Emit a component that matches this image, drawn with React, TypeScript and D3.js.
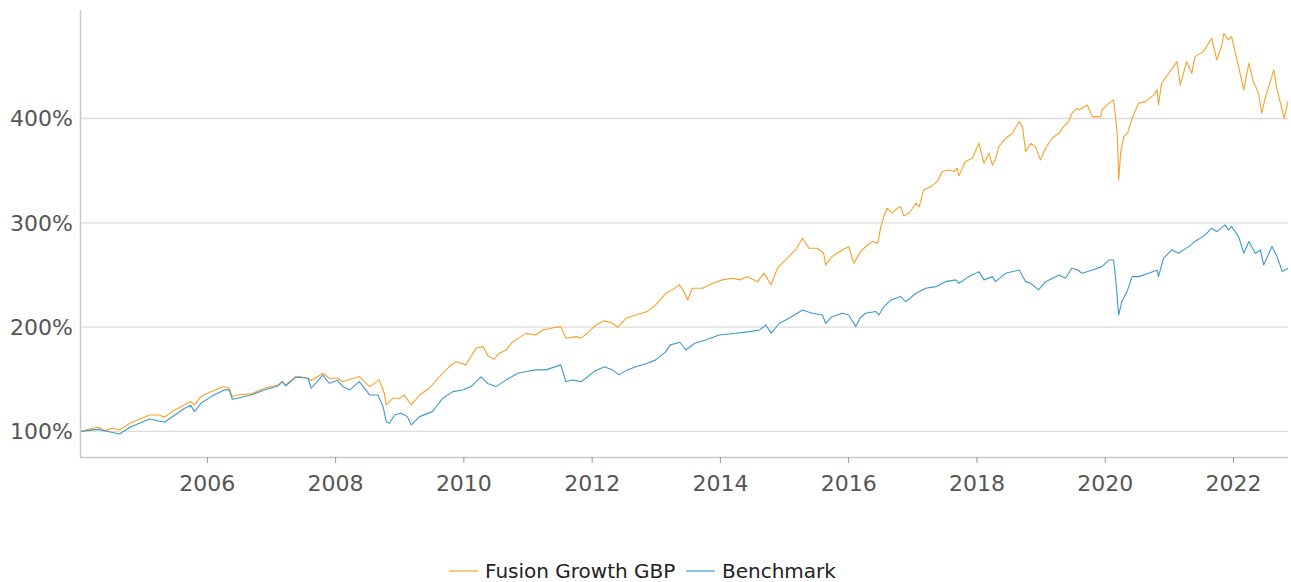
import React from "react";
import * as d3 from "d3";

const seriesNames = ["Fusion Growth GBP", "Benchmark"];
const seriesColors = ["#f7a128", "#3c9acb"];
const yTickValues = [100, 200, 300, 400];
const xTickYears = [2006, 2008, 2010, 2012, 2014, 2016, 2018, 2020, 2022];

// [decimal year, % value]
const fundSeries: [number, number][] = [
  [2004.03,100],[2004.12,101.5],[2004.29,104],[2004.40,100.8],[2004.52,103],[2004.63,101.4],[2004.79,107.9],[2004.91,111],[2005.10,115.8],[2005.25,115.8],[2005.33,113.6],[2005.49,120.6],[2005.64,125.4],[2005.74,128.6],[2005.80,125.4],[2005.90,133.4],[2006.06,138.2],[2006.26,143],[2006.34,141.4],[2006.39,133.4],[2006.47,135],[2006.68,136],[2006.89,141.4],[2007.10,144.6],[2007.17,147.7],[2007.22,144.6],[2007.38,152.5],[2007.44,152.5],[2007.57,151],[2007.62,148.9],[2007.80,155.8],[2007.90,151],[2008.03,151],[2008.11,147.7],[2008.22,150],[2008.37,152.5],[2008.53,143],[2008.68,149.4],[2008.76,136.6],[2008.79,125.4],[2008.89,131.8],[2009.00,131.8],[2009.07,135],[2009.18,125.4],[2009.31,135],[2009.46,141.4],[2009.62,152.5],[2009.77,162],[2009.88,166.9],[2010.03,163.8],[2010.19,179.8],[2010.30,181.3],[2010.38,172],[2010.47,169.2],[2010.55,175],[2010.66,178],[2010.76,186],[2010.89,190.9],[2010.97,194],[2011.12,192.5],[2011.23,197.3],[2011.36,199],[2011.51,200.5],[2011.59,189.4],[2011.75,190.9],[2011.83,189.4],[2011.95,195.7],[2012.06,202],[2012.19,206],[2012.32,203.7],[2012.40,199.9],[2012.53,208.5],[2012.68,211.7],[2012.86,214.9],[2012.99,221.3],[2013.15,232.5],[2013.25,235.7],[2013.36,240.5],[2013.43,234],[2013.49,226],[2013.56,237.3],[2013.72,237.3],[2013.88,242],[2014.03,245.3],[2014.19,246.9],[2014.30,245.3],[2014.42,248.4],[2014.58,243.6],[2014.68,251.7],[2014.79,240.5],[2014.89,256.5],[2015.04,266.1],[2015.17,274],[2015.28,285.2],[2015.38,275.6],[2015.51,275.6],[2015.61,270.8],[2015.64,259.6],[2015.74,267.6],[2015.90,274],[2016.00,277],[2016.08,261.3],[2016.19,273],[2016.30,279],[2016.37,282],[2016.45,280.4],[2016.47,285.2],[2016.50,296.4],[2016.55,306],[2016.60,314],[2016.68,309.2],[2016.76,314],[2016.81,315.5],[2016.86,306.6],[2016.94,309.2],[2017.05,318.8],[2017.10,315.5],[2017.17,331.5],[2017.28,334.7],[2017.38,339.5],[2017.46,349.1],[2017.56,350.7],[2017.64,349.1],[2017.69,352.3],[2017.72,345],[2017.82,358.7],[2017.93,361.9],[2018.03,376.3],[2018.11,357.1],[2018.19,366.7],[2018.24,355.5],[2018.29,361],[2018.34,373],[2018.45,381.1],[2018.55,385.9],[2018.66,397],[2018.71,392.2],[2018.76,368.3],[2018.84,376.3],[2018.91,373],[2018.99,360.3],[2019.07,371.5],[2019.17,381.1],[2019.28,385.9],[2019.35,392.2],[2019.43,397],[2019.48,405],[2019.56,409.9],[2019.59,408.2],[2019.72,413],[2019.80,401.8],[2019.93,401.8],[2019.95,408.2],[2020.06,414.7],[2020.13,417.8],[2020.16,401.8],[2020.19,382.6],[2020.21,341.1],[2020.24,366.7],[2020.29,382.6],[2020.35,385.9],[2020.42,400.3],[2020.52,414.7],[2020.63,416.2],[2020.76,422.6],[2020.81,427.4],[2020.83,413],[2020.88,433.8],[2020.99,443.4],[2021.12,454.5],[2021.17,432.2],[2021.27,454.5],[2021.35,443.4],[2021.40,459.3],[2021.53,464.1],[2021.66,476.9],[2021.74,456.1],[2021.82,470.5],[2021.85,481.7],[2021.92,475.4],[2021.97,478.5],[2022.03,462.5],[2022.08,449.7],[2022.16,427.4],[2022.24,453],[2022.31,435.4],[2022.39,424.3],[2022.44,405],[2022.50,421],[2022.55,430.6],[2022.63,446.6],[2022.68,427.4],[2022.76,408.2],[2022.79,400.2],[2022.85,416.2]
];

const benchmarkSeries: [number, number][] = [
  [2004.03,100],[2004.15,101],[2004.29,102],[2004.45,100],[2004.63,97.6],[2004.79,104],[2005.10,112],[2005.33,108.8],[2005.64,122],[2005.74,125],[2005.80,119],[2005.90,127],[2006.06,133.4],[2006.26,139.8],[2006.34,139.8],[2006.39,130.9],[2006.47,131.8],[2006.68,135],[2006.89,139.8],[2007.10,143.6],[2007.17,147.7],[2007.22,143.6],[2007.38,152],[2007.44,151.8],[2007.57,151],[2007.62,141.4],[2007.80,154],[2007.90,146.2],[2008.03,149],[2008.11,143],[2008.22,139.8],[2008.37,147.7],[2008.53,135],[2008.66,135],[2008.74,123.8],[2008.79,109.4],[2008.84,107.9],[2008.92,115.8],[2009.02,117.4],[2009.12,114.2],[2009.18,106.2],[2009.31,114.2],[2009.51,119],[2009.67,131.8],[2009.83,138.2],[2009.98,139.8],[2010.11,143],[2010.27,152.3],[2010.37,146],[2010.50,143],[2010.66,149.4],[2010.84,155.8],[2010.97,157.4],[2011.12,159],[2011.28,159],[2011.51,163.8],[2011.59,147.7],[2011.69,149.4],[2011.83,147.7],[2011.90,151],[2012.03,157.4],[2012.19,162.1],[2012.32,159],[2012.42,154.2],[2012.55,159],[2012.68,162.1],[2012.86,165.4],[2012.99,168.6],[2013.15,176.5],[2013.22,183],[2013.37,185.5],[2013.46,178.1],[2013.60,184.6],[2013.77,187.7],[2013.98,192.5],[2014.24,194.1],[2014.45,195.7],[2014.61,197.3],[2014.71,202.1],[2014.79,194.1],[2014.92,203.7],[2015.07,208.5],[2015.28,216.5],[2015.43,213.3],[2015.59,211.7],[2015.64,203.7],[2015.74,210],[2015.90,213.3],[2016.00,211.7],[2016.11,200.5],[2016.18,209],[2016.26,213.3],[2016.42,215],[2016.47,211.7],[2016.55,219.7],[2016.66,226.1],[2016.81,229.3],[2016.89,224.5],[2017.05,232.5],[2017.20,237.3],[2017.36,238.8],[2017.51,243.6],[2017.67,245.3],[2017.72,242],[2017.87,248.4],[2018.03,253.2],[2018.11,245.3],[2018.24,248.4],[2018.29,243.6],[2018.45,251.7],[2018.66,254.8],[2018.76,243.6],[2018.84,242],[2018.96,235.7],[2019.07,243.6],[2019.28,250],[2019.38,246.9],[2019.48,256.5],[2019.56,255],[2019.64,251.7],[2019.80,254.8],[2019.95,258],[2020.06,264.4],[2020.13,264.4],[2020.16,248.4],[2020.21,211.7],[2020.26,224.5],[2020.34,234],[2020.42,248.4],[2020.52,248.4],[2020.68,251.7],[2020.81,254.8],[2020.83,248.4],[2020.91,266.1],[2021.04,274],[2021.14,270.8],[2021.30,277.2],[2021.40,282],[2021.56,288.4],[2021.66,294.8],[2021.74,291.6],[2021.87,298],[2021.92,293.2],[2021.97,296.4],[2022.08,286.8],[2022.16,270.8],[2022.24,282],[2022.34,270.8],[2022.42,274],[2022.47,259.6],[2022.60,277.2],[2022.68,267.6],[2022.76,253.2],[2022.85,256.5]
];

const W = 1291;
const H = 582;
const plot = { left: 81, right: 1288, top: 10, bottom: 457 };
const FONT = "'DejaVu Sans', sans-serif";

export default function App() {
  const x = d3.scaleLinear().domain([2004.03, 2022.85]).range([plot.left, plot.right]);
  const y = d3.scaleLinear().domain([75.5, 504]).range([plot.bottom, plot.top]);
  const line = d3
    .line<[number, number]>()
    .x((d) => x(d[0]))
    .y((d) => y(d[1]));
  const all = [fundSeries, benchmarkSeries];

  const legendItems = [
    { sx: 449, tx: 485 },
    { sx: 686, tx: 722 },
  ];

  return (
    <svg
      width={W}
      height={H}
      style={{ position: "absolute", left: 0, top: 0, background: "#fff" }}
      fontFamily={FONT}
    >
      {yTickValues.map((v) => (
        <g key={v}>
          <line x1={plot.left} x2={plot.right} y1={y(v)} y2={y(v)} stroke="#dcdcdc" strokeWidth={1.3} />
          <text x={73} y={y(v)} dy="0.36em" textAnchor="end" fontSize={22} fill="#555">
            {v}%
          </text>
        </g>
      ))}
      <line x1={80.5} x2={80.5} y1={plot.top} y2={plot.bottom + 0.5} stroke="#c8c8c8" strokeWidth={1.5} />
      <line x1={80} x2={plot.right} y1={plot.bottom + 0.5} y2={plot.bottom + 0.5} stroke="#c8c8c8" strokeWidth={1.5} />
      {xTickYears.map((yr) => (
        <g key={yr}>
          <line x1={x(yr)} x2={x(yr)} y1={plot.bottom} y2={plot.bottom + 6} stroke="#999" strokeWidth={1} />
          <text x={x(yr)} y={491} textAnchor="middle" fontSize={22} fill="#555">
            {yr}
          </text>
        </g>
      ))}
      {all.map((s, i) => (
        <path key={i} d={line(s) || ""} fill="none" stroke={seriesColors[i]} strokeWidth={1.1} strokeLinejoin="round" />
      ))}
      {legendItems.map((it, i) => (
        <g key={i}>
          <line x1={it.sx} x2={it.sx + 29} y1={571} y2={571} stroke={seriesColors[i]} strokeWidth={1.2} />
          <text x={it.tx} y={578} fontSize={20} fill="#222">
            {seriesNames[i]}
          </text>
        </g>
      ))}
    </svg>
  );
}
